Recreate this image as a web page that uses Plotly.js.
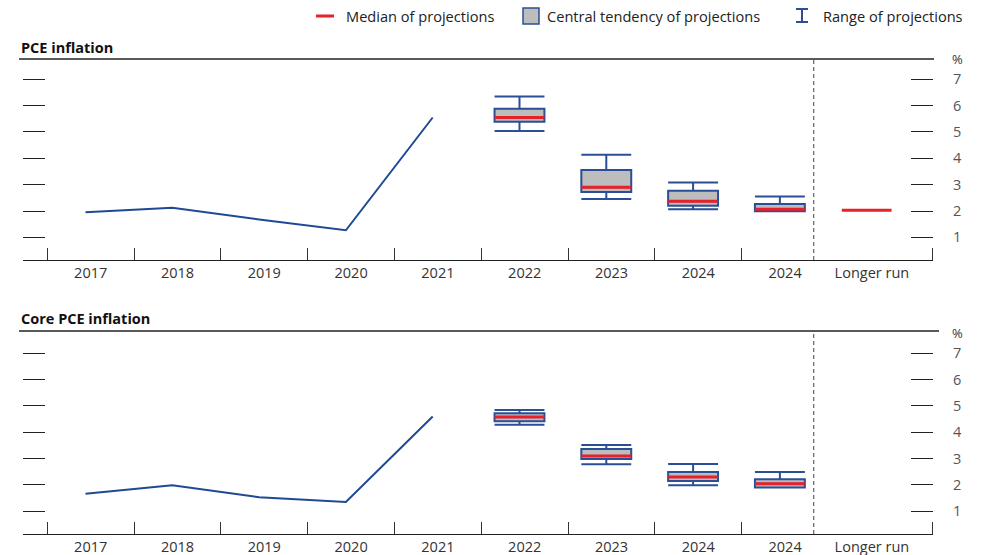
<!DOCTYPE html>
<html>
<head>
<meta charset="utf-8">
<script src="https://cdn.plot.ly/plotly-3.0.1.min.js"></script>
<style>
  html, body { margin: 0; padding: 0; background: #fff; }
  #chart { width: 982px; height: 555px; }
</style>
</head>
<body>
<div id="chart"></div>
<script>
// ---------- data ----------
const xLabels = ['2017', '2018', '2019', '2020', '2021', '2022', '2023', '2024', '2024', 'Longer run'];

// PCE inflation
const pceHistory = [1.95, 2.12, 1.68, 1.27, 5.55];
const pceMedian = [5.55, 2.90, 2.37, 2.07];
const pceCentralLow = [5.39, 2.72, 2.20, 1.99];
const pceCentralHigh = [5.88, 3.56, 2.77, 2.27];
const pceRangeLow = [5.04, 2.46, 2.07, 1.99];
const pceRangeHigh = [6.35, 4.14, 3.08, 2.55];
const pceLongerRun = [2.03];

// Core PCE inflation
const coreHistory = [1.66, 1.98, 1.53, 1.35, 4.59];
const coreMedian = [4.57, 3.09, 2.29, 2.04];
const coreCentralLow = [4.41, 2.98, 2.14, 1.90];
const coreCentralHigh = [4.72, 3.36, 2.48, 2.21];
const coreRangeLow = [4.28, 2.78, 1.98, 1.90];
const coreRangeHigh = [4.84, 3.51, 2.79, 2.48];
const coreLongerRun = [];

const yTicks = [1, 2, 3, 4, 5, 6, 7];

// ---------- styles ----------
const BLUE = '#1f4a93';
const BOXBLUE = '#2a4f96';
const RED = '#e6212a';
const GREY = '#bdbdbd';
const FONT = 'Open Sans, Noto Sans, DejaVu Sans, sans-serif';

const histX = pceHistory.map((_, i) => i);
const projX = pceMedian.map((_, i) => pceHistory.length + i);
const longX = xLabels.length - 1;

function panelTraces(hist, med, cLo, cHi, rLo, rHi, longRun, xa, ya) {
  return [
    {
      type: 'scatter', mode: 'lines', x: histX, y: hist, xaxis: xa, yaxis: ya,
      line: { color: BLUE, width: 2 }, hoverinfo: 'skip', showlegend: false
    },
    {
      type: 'box', x: projX, q1: cLo, median: med, q3: cHi,
      lowerfence: rLo, upperfence: rHi, xaxis: xa, yaxis: ya,
      width: 0.575, whiskerwidth: 1, boxpoints: false,
      line: { color: BOXBLUE, width: 2 }, fillcolor: GREY,
      hoverinfo: 'skip', showlegend: false
    },
    {
      type: 'scatter', mode: 'markers',
      x: projX.concat(longRun.map(() => longX)), y: med.concat(longRun),
      xaxis: xa, yaxis: ya,
      marker: { symbol: 'line-ew', size: 35.5, color: RED, line: { color: RED, width: 3 } },
      hoverinfo: 'skip', showlegend: false
    }
  ];
}

const data = []
  .concat(panelTraces(pceHistory, pceMedian, pceCentralLow, pceCentralHigh, pceRangeLow, pceRangeHigh, pceLongerRun, 'x', 'y'))
  .concat(panelTraces(coreHistory, coreMedian, coreCentralLow, coreCentralHigh, coreRangeLow, coreRangeHigh, coreLongerRun, 'x2', 'y2'));

// axis geometry
const xRange = [-0.72, 9.764];
const labelVals = xLabels.map((_, i) => i + 0.06);
const boundaryVals = xLabels.slice(0, xLabels.length - 1).map((_, i) => i - 0.44).concat([9.755]);
const dividerX = 8.39;

function xAxis(anchor) {
  return {
    anchor: anchor, domain: [0, 1], range: xRange, fixedrange: true,
    tickmode: 'array', tickvals: labelVals, ticktext: xLabels, ticks: '',
    tickfont: { family: FONT, size: 14.5, color: '#333' },
    showline: true, linecolor: '#222', linewidth: 1,
    showgrid: false, zeroline: false, automargin: false,
    minor: { tickmode: 'array', tickvals: boundaryVals, ticks: 'inside', ticklen: 12, tickcolor: '#333', tickwidth: 1, showgrid: false }
  };
}
function yAxis(anchor, domain, range) {
  return {
    anchor: anchor, domain: domain, range: range, side: 'right', fixedrange: true,
    tickmode: 'array', tickvals: yTicks, ticks: 'inside', ticklen: 22, tickcolor: '#222', tickwidth: 1,
    mirror: 'ticks', showline: false, showgrid: false, zeroline: false, automargin: false,
    ticklabelstandoff: 19,
    tickfont: { family: FONT, size: 14.5, color: '#555' }
  };
}

function pLine(x0, x1, y0, y1, color, width, xref, yref, dash) {
  return { type: 'line', xref: xref || 'paper', yref: yref || 'paper', x0, x1, y0, y1,
           line: { color, width, dash: dash || 'solid' } };
}

// pixel helpers for legend (outside plot)
const PL = 23, PW = 910, PB = 534, PH = 475;
const px = v => (v - PL) / PW;
const py = v => (PB - v) / PH;

const shapes = [
  // top rules
  pLine(px(19), px(934), 1, 1, '#222', 1.5, 'paper', 'y domain'),
  pLine(px(19), px(939), 1, 1, '#222', 1.5, 'paper', 'y2 domain'),
  // dashed dividers
  pLine(dividerX, dividerX, 0, 1, '#444', 1, 'x', 'y domain', '4px,3px'),
  pLine(dividerX, dividerX, 0, 1, '#444', 1, 'x2', 'y2 domain', '4px,3px'),
  // legend: median
  pLine(px(316), px(334), py(16), py(16), RED, 3),
  // legend: central tendency
  { type: 'rect', xref: 'paper', yref: 'paper', x0: px(523), x1: px(539), y0: py(24), y1: py(8),
    fillcolor: GREY, line: { color: BOXBLUE, width: 1.5 } },
  // legend: range I-beam
  pLine(px(796), px(808), py(9), py(9), BOXBLUE, 2),
  pLine(px(796), px(808), py(22), py(22), BOXBLUE, 2),
  pLine(px(802), px(802), py(9), py(22), BOXBLUE, 2)
];

function ann(text, x, y, opts) {
  return Object.assign({ text, xref: 'paper', yref: 'paper', x, y, showarrow: false,
    xanchor: 'left', yanchor: 'middle', font: { family: FONT, size: 14.6, color: '#222' } }, opts || {});
}

const annotations = [
  ann('<b>PCE inflation</b>', px(19), py(47.5), { font: { family: FONT, size: 14.5, color: '#111' } }),
  ann('<b>Core PCE inflation</b>', px(19), py(318), { font: { family: FONT, size: 14.5, color: '#111' } }),
  ann('%', px(958), py(59), { xanchor: 'center', font: { family: FONT, size: 13, color: '#333' } }),
  ann('%', px(958), py(332.5), { xanchor: 'center', font: { family: FONT, size: 13, color: '#333' } }),
  ann('Median of projections', px(344), py(16)),
  ann('Central tendency of projections', px(545), py(16)),
  ann('Range of projections', px(821), py(16))
];

const layout = {
  width: 982, height: 555,
  margin: { l: 23, r: 49, t: 59, b: 21, pad: 0 },
  paper_bgcolor: '#fff', plot_bgcolor: '#fff',
  showlegend: false,
  font: { family: FONT, size: 14, color: '#222' },
  xaxis: xAxis('y'),
  yaxis: yAxis('x', [0.5768, 1], [0.14, 7.77]),
  xaxis2: xAxis('y2'),
  yaxis2: yAxis('x2', [0, 0.4274], [0.13, 7.84]),
  shapes: shapes,
  annotations: annotations
};

Plotly.newPlot('chart', data, layout, { displayModeBar: false, staticPlot: true });
</script>
</body>
</html>
